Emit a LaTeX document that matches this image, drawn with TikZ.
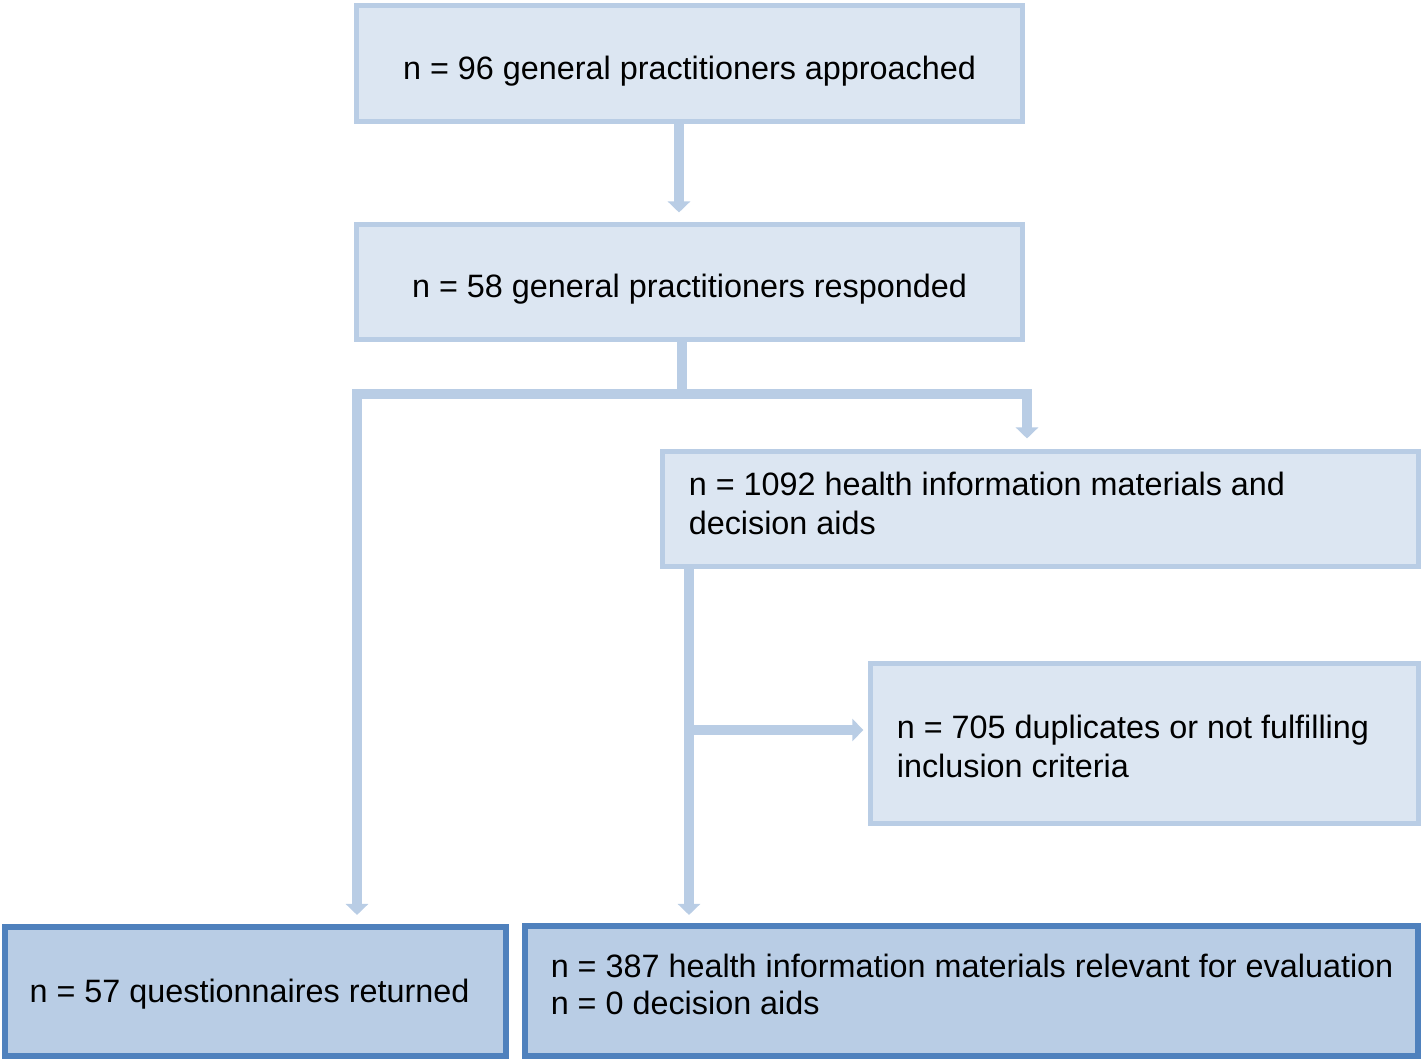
\documentclass[tikz,border=0pt]{standalone}
\usepackage{fontspec}
\setmainfont{Liberation Sans}
\usetikzlibrary{arrows.meta}
\definecolor{stagefill}{HTML}{DCE6F2}
\definecolor{stageline}{HTML}{B9CDE5}
\definecolor{resultfill}{HTML}{B9CDE5}
\definecolor{resultline}{HTML}{4F81BD}
\begin{document}
\begin{tikzpicture}[x=0.01cm, y=-0.01cm, line join=miter,
    every node/.style={font=\fontsize{9.2}{11.1}\selectfont},
    stage/.style={draw=stageline, fill=stagefill, line width=0.05cm, inner sep=0pt},
    result/.style={draw=resultline, fill=resultfill, line width=0.06cm, inner sep=0pt},
    flow/.style={draw=stageline, line width=0.1cm, shorten >=0.08cm,
      -{Triangle[width=0.22cm,length=0.11cm]}}]
    \useasboundingbox (0,0) rectangle (1424,1063);
    % boxes
    \node[stage, minimum width=6.66cm, minimum height=1.16cm, text height=0.31cm,
      text depth=0pt] (approached) at (689.5,63.5)
      {n = 96 general practitioners approached};
    \node[stage, minimum width=6.66cm, minimum height=1.15cm, text height=0.31cm,
      text depth=0pt] (responded) at (689.5,282)
      {n = 58 general practitioners responded};
    \node[stage, minimum width=7.56cm, minimum height=1.15cm, text width=7.03cm,
      inner xsep=0.265cm, align=flush left, text depth=0.51cm] (materials) at (1040.5,509)
      {n = 1092 health information materials and\\decision aids};
    \node[stage, minimum width=5.48cm, minimum height=1.60cm, text width=4.95cm,
      inner xsep=0.265cm, align=flush left, text depth=0.33cm] (excluded) at (1144.5,743.5)
      {n = 705 duplicates or not fulfilling\\inclusion criteria};
    \node[result, minimum width=5.01cm, minimum height=1.29cm, text height=0.21cm,
      text depth=0pt] (returned) at (255.5,991.5)
      {\hspace*{-0.12cm}n = 57 questionnaires returned};
    \node[result, minimum width=8.93cm, minimum height=1.30cm, text width=8.41cm,
      inner xsep=0.26cm, align=flush left, text depth=0.51cm,
      font=\fontsize{9.2}{10.5}\selectfont] (relevant) at (971.5,991)
      {\mbox{n = 387 health information materials relevant for evaluation}\\n = 0 decision aids};
    % connectors
    \coordinate (split) at (682,394);
    \coordinate (left) at (357,394);
    \coordinate (right) at (1027,394);
    \coordinate (branch) at (689,730);
    \draw[flow, shorten >=0.095cm] ([xshift=-0.105cm]approached.south) -- ([xshift=-0.105cm]responded.north);
    \draw[stageline, line width=0.1cm] (responded.south -| split) -- (split);
    \draw[flow, shorten >=0.09cm] (split) -| (returned.north -| left);
    \draw[flow, shorten >=0.105cm] (split) -| (materials.north -| right);
    \draw[flow] (materials.south -| branch) -- (relevant.north -| branch);
    \draw[flow, shorten >=0.045cm] (branch) -- (excluded.west |- branch);
\end{tikzpicture}
\end{document}
